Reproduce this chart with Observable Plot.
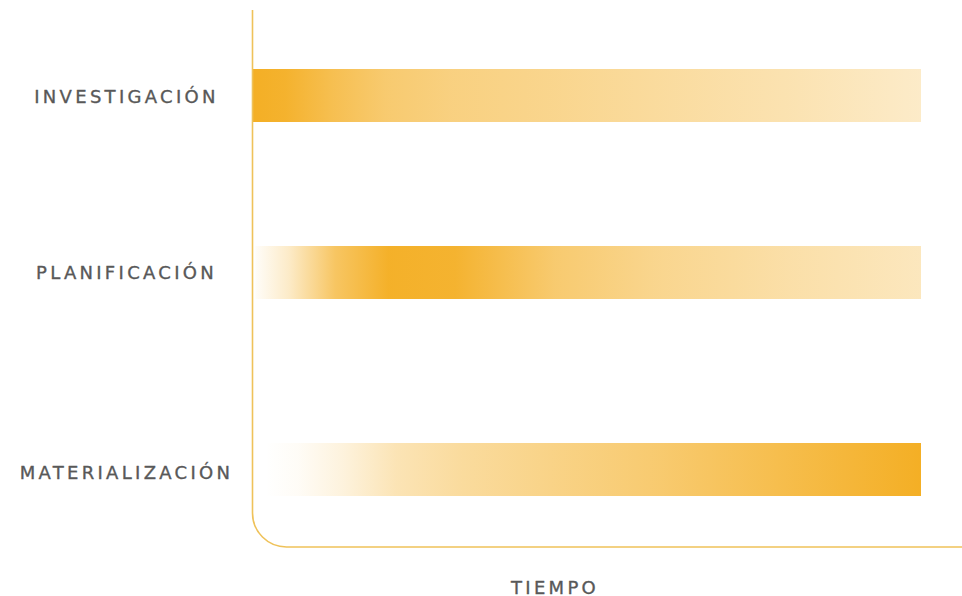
<!DOCTYPE html>
<html><head><meta charset="utf-8">
<script src="https://cdn.jsdelivr.net/npm/d3@7"></script>
<script src="https://cdn.jsdelivr.net/npm/@observablehq/plot@0.6"></script>
<style>body{margin:0;background:#fff}</style>
</head><body><div id="chart"></div>
<script>
// ---- data ----
const categories = ["INVESTIGACIÓN", "PLANIFICACIÓN", "MATERIALIZACIÓN"];
const startTime = [0, 0.5, 2];
const endTime = [100, 100, 100];
const stopOffsets = [0, 5, 12, 20, 30, 45, 60, 80, 100]; // % of each bar
const intensityInvestigacion = [1, 0.96, 0.8, 0.66, 0.58, 0.52, 0.45, 0.36, 0.25];
const intensityPlanificacion = [0.03, 0.25, 0.72, 0.98, 0.95, 0.66, 0.52, 0.4, 0.3];
const intensityMaterializacion = [0, 0.04, 0.16, 0.34, 0.45, 0.56, 0.66, 0.83, 1];
const axisLabel = "TIEMPO";

// ---- style / layout ----
const barColor = "#F4AF25";
const axisColor = "#EFC25A";
const textColor = "#585858";
const rowShiftBar = [0, -10, 0];
const rowShiftLabel = [1, -10, 3];

const intensities = [intensityInvestigacion, intensityPlanificacion, intensityMaterializacion];
const rows = categories.map((c, i) => ({phase: c, start: startTime[i], end: endTime[i], idx: i}));

const defsMark = () => {
  const defs = d3.create("svg:defs");
  intensities.forEach((vals, i) => {
    const g = defs.append("linearGradient").attr("id", "grad" + i)
      .attr("x1", "0").attr("x2", "1").attr("y1", "0").attr("y2", "0");
    vals.forEach((v, k) => {
      g.append("stop").attr("offset", stopOffsets[k] + "%")
        .attr("stop-color", barColor).attr("stop-opacity", v);
    });
  });
  return defs.node();
};

const frameMark = (index, scales, values, dims) => {
  const x0 = dims.marginLeft + 0.5;
  const top = dims.marginTop;
  const bottom = dims.height - dims.marginBottom;
  const r = 34;
  return d3.create("svg:path")
    .attr("d", `M${x0},${top}V${bottom - r}A${r},${r} 0 0 0 ${x0 + r},${bottom}H${dims.width}`)
    .attr("fill", "none").attr("stroke", axisColor).attr("stroke-width", 1.6)
    .node();
};

const marks = [defsMark];
rows.forEach((r, i) => {
  marks.push(Plot.barX([r], {x1: "start", x2: "end", y: "phase", fill: `url(#grad${i})`, dy: rowShiftBar[i]}));
  marks.push(Plot.text([r], {y: "phase", text: "phase", frameAnchor: "left", dx: -126, dy: rowShiftLabel[i],
    textAnchor: "middle", fill: textColor, stroke: textColor, strokeWidth: 0.35}));
});
marks.push(frameMark);
marks.push(Plot.text([axisLabel], {text: d => d, frameAnchor: "bottom", dx: -32, dy: 46, textAnchor: "middle",
  fill: textColor, stroke: textColor, strokeWidth: 0.35}));

const chart = Plot.plot({
  width: 962, height: 596,
  marginLeft: 252, marginRight: 41, marginTop: 10, marginBottom: 49,
  x: {domain: [0, 100], axis: null},
  y: {domain: categories, range: [68, 496], paddingInner: 0.717, paddingOuter: 0, axis: null},
  style: {fontFamily: "DejaVu Sans", fontSize: "18px", letterSpacing: "3.3px", background: "#fff", overflow: "visible"},
  marks
});
document.getElementById("chart").appendChild(chart);
</script>
</body></html>
